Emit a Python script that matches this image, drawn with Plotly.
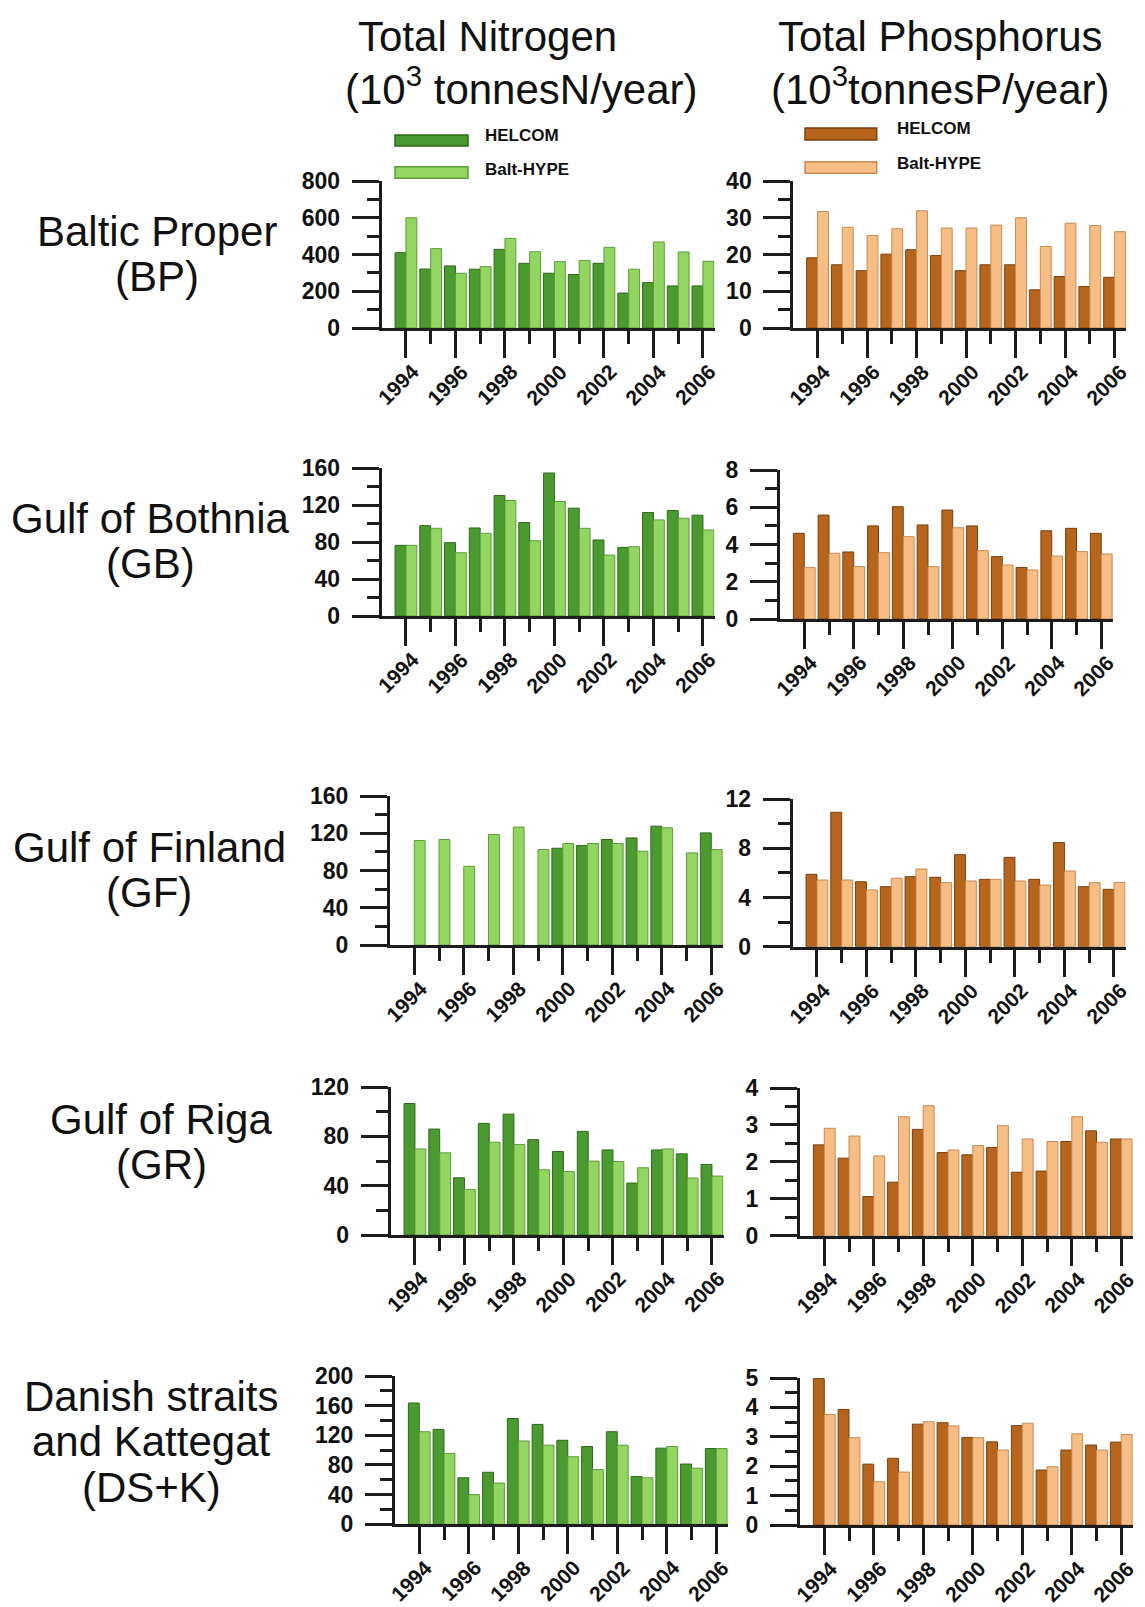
import plotly.graph_objects as go

# ---------------- data ----------------
years = list(range(1994, 2007))
tick_years = [1994, 1996, 1998, 2000, 2002, 2004, 2006]
tick_labels = ["1994", "1996", "1998", "2000", "2002", "2004", "2006"]
minor_years = [1995, 1997, 1999, 2001, 2003, 2005]

col_titles_1 = ["Total Nitrogen", "Total Phosphorus"]
col_titles_2 = ["(10<sup>3</sup> tonnesN/year)", "(10<sup>3</sup>tonnesP/year)"]
row_labels = [["Baltic Proper", "(BP)"],
              ["Gulf of Bothnia", "(GB)"],
              ["Gulf of Finland", "(GF)"],
              ["Gulf of Riga", "(GR)"],
              ["Danish straits", "and Kattegat", "(DS+K)"]]
series_names = ["HELCOM", "Balt-HYPE"]

BP_N_helcom = [410, 321, 338, 320, 428, 352, 298, 291, 352, 190, 247, 229, 229]
BP_N_hype = [600, 432, 298, 334, 488, 415, 361, 368, 439, 320, 468, 414, 363]
BP_P_helcom = [19.1, 17.2, 15.6, 20.1, 21.3, 19.7, 15.6, 17.2, 17.2, 10.4, 14.0, 11.3, 13.8]
BP_P_hype = [31.7, 27.4, 25.2, 27.0, 31.9, 27.2, 27.2, 28.0, 30.0, 22.2, 28.5, 27.9, 26.2]

GB_N_helcom = [76.4, 97.7, 79.3, 95.2, 130.3, 101, 154.6, 116.6, 82.2, 74.2, 111.9, 114, 109]
GB_N_hype = [76.4, 94.8, 68.4, 89.4, 124.9, 81.4, 123.8, 94.8, 65.9, 74.9, 103.9, 105.7, 93]
GB_P_helcom = [4.6, 5.58, 3.6, 5.0, 6.03, 5.05, 5.85, 5.0, 3.35, 2.77, 4.74, 4.87, 4.6]
GB_P_hype = [2.76, 3.53, 2.81, 3.56, 4.42, 2.81, 4.9, 3.67, 2.9, 2.63, 3.38, 3.62, 3.49]

GF_N_helcom = [None, None, None, None, None, None, 103.9, 106.8, 113.3, 115, 127.6, None, 120.4]
GF_N_hype = [112.2, 113.3, 84.5, 118.7, 126.6, 102.5, 109, 109, 109, 100.7, 125.8, 98.9, 102.5]
GF_P_helcom = [5.88, 10.92, 5.28, 4.88, 5.69, 5.64, 7.48, 5.47, 7.26, 5.47, 8.46, 4.88, 4.66]
GF_P_hype = [5.42, 5.42, 4.61, 5.56, 6.31, 5.2, 5.34, 5.47, 5.34, 5.01, 6.15, 5.2, 5.23]

GR_N_helcom = [106.6, 85.9, 46.4, 90.5, 98, 77.3, 67.7, 84, 69, 42.1, 69, 65.8, 57.2]
GR_N_hype = [69.8, 66.6, 37, 75.2, 73.3, 52.9, 51.5, 59.9, 59.6, 54.5, 69.8, 46.2, 47.8]
GR_P_helcom = [2.46, 2.1, 1.06, 1.45, 2.88, 2.25, 2.19, 2.39, 1.72, 1.75, 2.55, 2.84, 2.62]
GR_P_hype = [2.91, 2.7, 2.16, 3.22, 3.52, 2.32, 2.44, 2.98, 2.62, 2.55, 3.22, 2.53, 2.62]

DSK_N_helcom = [163.6, 128, 62.7, 70.2, 142.7, 134.7, 113.3, 104.9, 124.9, 64.4, 102.7, 81.3, 102.2]
DSK_N_hype = [124.9, 95.6, 40, 55.6, 112.4, 106.7, 91.1, 73.8, 106.7, 62.7, 104.9, 75.6, 102.2]
DSK_P_helcom = [4.98, 3.93, 2.07, 2.27, 3.43, 3.48, 2.98, 2.83, 3.38, 1.87, 2.55, 2.72, 2.82]
DSK_P_hype = [3.76, 2.97, 1.47, 1.8, 3.51, 3.37, 2.97, 2.55, 3.46, 1.98, 3.1, 2.55, 3.08]

# y-axis scales: (max, major step)
N_scales = [(800, 200), (160, 40), (160, 40), (120, 40), (200, 40)]
P_scales = [(40, 10), (8, 2), (12, 4), (4, 1), (5, 1)]

# ---------------- styling / layout ----------------
W, H = 1145, 1607
OFF = 8  # page body margin compensation (px)
FONT = "Liberation Sans, Arial, sans-serif"
AX = "#1c1c1c"
GREEN = ("#4b9a2f", "#2f6a1c", "#92d661", "#5f9c3a")
ORANGE = ("#b7651c", "#7a410f", "#f6bd84", "#c88a52")


def px(x):
    return (x - OFF) / W


def py(y):
    return 1 - (y - OFF) / H


# per panel pixel geometry: (y-axis x, top y, zero y)
geom_N = [(381.7, 181, 328), (381.7, 468, 616), (390, 796, 945), (390.7, 1087, 1235), (395, 1376, 1524.3)]
geom_P = [(793.3, 181, 328), (780, 470, 619), (792.7, 799, 946.7), (800, 1088, 1235.7), (800, 1378, 1525)]
XR = [1993.02, 2006.47]
SPACING = 24.75
PW = (XR[1] - XR[0]) * SPACING

N_data = [(BP_N_helcom, BP_N_hype), (GB_N_helcom, GB_N_hype), (GF_N_helcom, GF_N_hype),
          (GR_N_helcom, GR_N_hype), (DSK_N_helcom, DSK_N_hype)]
P_data = [(BP_P_helcom, BP_P_hype), (GB_P_helcom, GB_P_hype), (GF_P_helcom, GF_P_hype),
          (GR_P_helcom, GR_P_hype), (DSK_P_helcom, DSK_P_hype)]

fig = go.Figure()
layout = {}
annotations = []
shapes = []


def frange(a, b, s):
    out = []
    v = a
    while v <= b + 1e-9:
        out.append(round(v, 6))
        v += s
    return out


YTICKFONT = dict(family=FONT, size=23, color="#111", weight="bold")
XTICKFONT = dict(family=FONT, size=21, color="#111", weight="bold")

idx = 0
for r in range(5):
    for c, (data, geom, scales, cols) in enumerate([(N_data, geom_N, N_scales, GREEN),
                                                   (P_data, geom_P, P_scales, ORANGE)]):
        idx += 1
        xa = "x" if idx == 1 else f"x{idx}"
        ya = "y" if idx == 1 else f"y{idx}"
        x0, top, zero = geom[r]
        ymax, step = scales[r]
        hel, hyp = data[r]
        fig.add_trace(go.Bar(x=years, y=hel, name=series_names[0], xaxis=xa, yaxis=ya,
                             marker=dict(color=cols[0], line=dict(color=cols[1], width=1)),
                             showlegend=False))
        fig.add_trace(go.Bar(x=years, y=hyp, name=series_names[1], xaxis=xa, yaxis=ya,
                             marker=dict(color=cols[2], line=dict(color=cols[3], width=1)),
                             showlegend=False))
        xkey = "xaxis" if idx == 1 else f"xaxis{idx}"
        ykey = "yaxis" if idx == 1 else f"yaxis{idx}"
        layout[xkey] = dict(domain=[px(x0), px(x0 + PW)], range=XR, anchor=ya,
                            showline=True, linewidth=3, linecolor=AX,
                            ticks="outside", tickmode="array", tickvals=tick_years,
                            ticklen=27, tickwidth=3, tickcolor=AX,
                            minor=dict(ticks="outside", tickmode="array", tickvals=minor_years,
                                       ticklen=13, tickwidth=3, tickcolor=AX),
                            showticklabels=False, showgrid=False, zeroline=False,
                            automargin=False, fixedrange=True)
        layout[ykey] = dict(domain=[py(zero), py(top)], range=[0, ymax], anchor=xa,
                            showline=True, linewidth=3, linecolor=AX,
                            ticks="outside", tickmode="array", tickvals=frange(0, ymax, step),
                            ticklen=27, tickwidth=3, tickcolor=AX,
                            minor=dict(ticks="outside", tickmode="array",
                                       tickvals=frange(step / 2, ymax, step),
                                       ticklen=12, tickwidth=3, tickcolor=AX),
                            tickfont=YTICKFONT, ticklabelstandoff=7,
                            showgrid=False, zeroline=False, automargin=False, fixedrange=True)
        # rotated year labels
        for ty, tl in zip(tick_years, tick_labels):
            annotations.append(dict(x=ty, y=0, xref=xa, yref=ya, text=tl, showarrow=False,
                                    textangle=-45, xanchor="right", yanchor="top",
                                    xshift=20, yshift=-29, font=XTICKFONT))

# column titles
title_pos = [((355.7, 36), (343, 86)), ((776, 36), (769, 86))]
for c in range(2):
    (ax1, ay1), (ax2, ay2) = title_pos[c]
    annotations.append(dict(x=px(ax1), y=py(ay1), xref="paper", yref="paper",
                            text=col_titles_1[c], showarrow=False, xanchor="left", yanchor="middle",
                            font=dict(family=FONT, size=42, color="#111")))
    annotations.append(dict(x=px(ax2), y=py(ay2), xref="paper", yref="paper",
                            text=col_titles_2[c], showarrow=False, xanchor="left", yanchor="middle",
                            font=dict(family=FONT, size=42, color="#111")))

# row labels (center x, first line y)
row_pos = [(157, 231), (150, 518), (149, 847), (161, 1119), (151, 1396)]
for r, lines in enumerate(row_labels):
    cx, cy = row_pos[r]
    for k, t in enumerate(lines):
        annotations.append(dict(x=px(cx), y=py(cy + k * 45.5), xref="paper", yref="paper",
                                text=t, showarrow=False, xanchor="center", yanchor="middle",
                                font=dict(family=FONT, size=42, color="#111")))

# legends (swatches + labels)
leg = [
    (GREEN, [(395, 468, 135, 146), (395, 468, 166.7, 178.3)], [(482.7, 135.5), (482.7, 169)]),
    (ORANGE, [(805, 876.7, 128, 140), (805, 876.7, 161.7, 173.3)], [(895, 129), (895, 163)]),
]
for cols, rects, texts in leg:
    for k in range(2):
        xa0, xa1, ya0, ya1 = rects[k]
        shapes.append(dict(type="rect", xref="paper", yref="paper",
                           x0=px(xa0), x1=px(xa1), y0=py(ya1), y1=py(ya0),
                           fillcolor=cols[2 * k], line=dict(color=cols[2 * k + 1], width=1.5)))
        tx, ty = texts[k]
        annotations.append(dict(x=px(tx), y=py(ty), xref="paper", yref="paper",
                                text=series_names[k], showarrow=False, xanchor="left",
                                yanchor="middle",
                                font=dict(family=FONT, size=17, color="#111", weight="bold")))

fig.update_layout(width=W, height=H, margin=dict(l=0, r=0, t=0, b=0, autoexpand=False),
                  paper_bgcolor="white", plot_bgcolor="white",
                  barmode="group", bargap=0.12, bargroupgap=0.0,
                  annotations=annotations, shapes=shapes, showlegend=False, **layout)

fig.write_html("out.html")
